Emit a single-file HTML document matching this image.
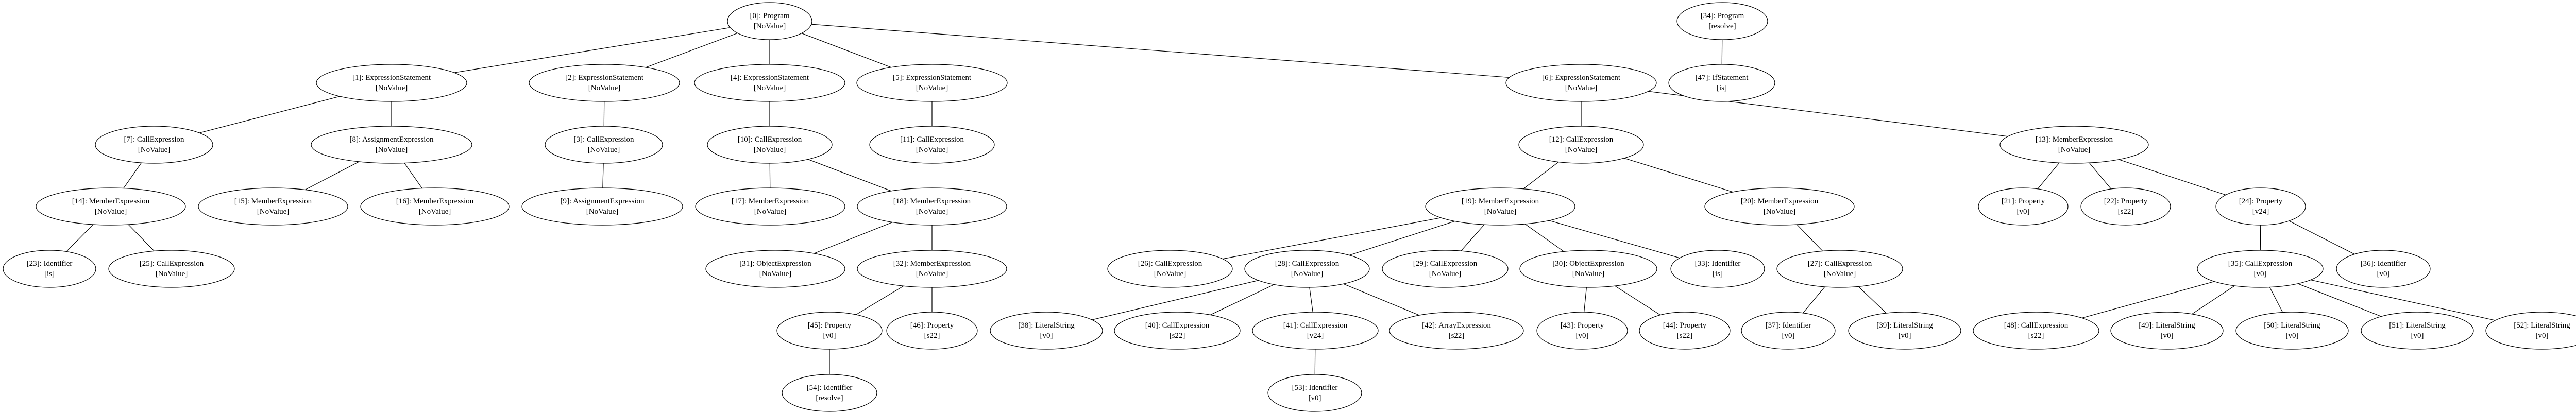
<!DOCTYPE html>
<html><head><meta charset="utf-8"><style>
html,body{margin:0;padding:0;background:#fff;}
svg{display:block;}
text{font-family:"Liberation Serif",serif;font-size:15px;fill:#000;text-anchor:middle;dominant-baseline:central;}
ellipse{fill:#fff;stroke:#000;stroke-width:1.2;}
line{stroke:#000;stroke-width:1.2;}
</style></head><body>
<svg width="5050" height="800" viewBox="0 0 5050 800" xmlns="http://www.w3.org/2000/svg">
<g>
<line x1="1494" y1="41" x2="760" y2="161"/>
<line x1="1494" y1="41" x2="1173" y2="161"/>
<line x1="1494" y1="41" x2="1494" y2="161"/>
<line x1="1494" y1="41" x2="1809" y2="161"/>
<line x1="1494" y1="41" x2="3069" y2="161"/>
<line x1="760" y1="161" x2="299" y2="281"/>
<line x1="760" y1="161" x2="760" y2="281"/>
<line x1="1173" y1="161" x2="1172" y2="281"/>
<line x1="1494" y1="161" x2="1494" y2="281"/>
<line x1="1809" y1="161" x2="1809" y2="281"/>
<line x1="3069" y1="161" x2="3069" y2="281"/>
<line x1="3069" y1="161" x2="4026" y2="281"/>
<line x1="299" y1="281" x2="215" y2="401"/>
<line x1="760" y1="281" x2="530" y2="401"/>
<line x1="760" y1="281" x2="844" y2="401"/>
<line x1="1172" y1="281" x2="1169" y2="401"/>
<line x1="1494" y1="281" x2="1495" y2="401"/>
<line x1="1494" y1="281" x2="1809" y2="401"/>
<line x1="3069" y1="281" x2="2912" y2="401"/>
<line x1="3069" y1="281" x2="3454" y2="401"/>
<line x1="4026" y1="281" x2="3927" y2="401"/>
<line x1="4026" y1="281" x2="4126" y2="401"/>
<line x1="4026" y1="281" x2="4388" y2="401"/>
<line x1="215" y1="401" x2="96" y2="522"/>
<line x1="215" y1="401" x2="333" y2="522"/>
<line x1="1809" y1="401" x2="1505" y2="522"/>
<line x1="1809" y1="401" x2="1809" y2="522"/>
<line x1="2912" y1="401" x2="2271" y2="522"/>
<line x1="2912" y1="401" x2="2537" y2="522"/>
<line x1="2912" y1="401" x2="2805" y2="522"/>
<line x1="2912" y1="401" x2="3083" y2="522"/>
<line x1="2912" y1="401" x2="3334" y2="522"/>
<line x1="3454" y1="401" x2="3571" y2="522"/>
<line x1="4388" y1="401" x2="4387" y2="522"/>
<line x1="4388" y1="401" x2="4626" y2="522"/>
<line x1="1809" y1="522" x2="1610" y2="642"/>
<line x1="1809" y1="522" x2="1809" y2="642"/>
<line x1="2537" y1="522" x2="2031" y2="642"/>
<line x1="2537" y1="522" x2="2285" y2="642"/>
<line x1="2537" y1="522" x2="2553" y2="642"/>
<line x1="2537" y1="522" x2="2827" y2="642"/>
<line x1="3083" y1="522" x2="3071" y2="642"/>
<line x1="3083" y1="522" x2="3270" y2="642"/>
<line x1="3571" y1="522" x2="3471" y2="642"/>
<line x1="3571" y1="522" x2="3697" y2="642"/>
<line x1="4387" y1="522" x2="3952" y2="642"/>
<line x1="4387" y1="522" x2="4206" y2="642"/>
<line x1="4387" y1="522" x2="4449" y2="642"/>
<line x1="4387" y1="522" x2="4692" y2="642"/>
<line x1="4387" y1="522" x2="4934" y2="642"/>
<line x1="1610" y1="642" x2="1610" y2="763"/>
<line x1="2553" y1="642" x2="2552" y2="763"/>
<line x1="3343" y1="41" x2="3342" y2="161"/>
</g>
<g>
<ellipse cx="1494" cy="41" rx="82" ry="36"/><text x="1494" y="31">[0]: Program</text><text x="1494" y="51">[NoValue]</text>
<ellipse cx="3343" cy="41" rx="88" ry="36"/><text x="3343" y="31">[34]: Program</text><text x="3343" y="51">[resolve]</text>

<ellipse cx="760" cy="161" rx="146" ry="36"/><text x="760" y="151">[1]: ExpressionStatement</text><text x="760" y="171">[NoValue]</text>
<ellipse cx="1173" cy="161" rx="146" ry="36"/><text x="1173" y="151">[2]: ExpressionStatement</text><text x="1173" y="171">[NoValue]</text>
<ellipse cx="1494" cy="161" rx="146" ry="36"/><text x="1494" y="151">[4]: ExpressionStatement</text><text x="1494" y="171">[NoValue]</text>
<ellipse cx="1809" cy="161" rx="146" ry="36"/><text x="1809" y="151">[5]: ExpressionStatement</text><text x="1809" y="171">[NoValue]</text>
<ellipse cx="3069" cy="161" rx="146" ry="36"/><text x="3069" y="151">[6]: ExpressionStatement</text><text x="3069" y="171">[NoValue]</text>
<ellipse cx="3342" cy="161" rx="103" ry="36"/><text x="3342" y="151">[47]: IfStatement</text><text x="3342" y="171">[is]</text>

<ellipse cx="299" cy="281" rx="114" ry="36"/><text x="299" y="271">[7]: CallExpression</text><text x="299" y="291">[NoValue]</text>
<ellipse cx="760" cy="281" rx="156" ry="36"/><text x="760" y="271">[8]: AssignmentExpression</text><text x="760" y="291">[NoValue]</text>
<ellipse cx="1172" cy="281" rx="114" ry="36"/><text x="1172" y="271">[3]: CallExpression</text><text x="1172" y="291">[NoValue]</text>
<ellipse cx="1494" cy="281" rx="121" ry="36"/><text x="1494" y="271">[10]: CallExpression</text><text x="1494" y="291">[NoValue]</text>
<ellipse cx="1809" cy="281" rx="121" ry="36"/><text x="1809" y="271">[11]: CallExpression</text><text x="1809" y="291">[NoValue]</text>
<ellipse cx="3069" cy="281" rx="121" ry="36"/><text x="3069" y="271">[12]: CallExpression</text><text x="3069" y="291">[NoValue]</text>
<ellipse cx="4026" cy="281" rx="144" ry="36"/><text x="4026" y="271">[13]: MemberExpression</text><text x="4026" y="291">[NoValue]</text>

<ellipse cx="215" cy="401" rx="145" ry="36"/><text x="215" y="391">[14]: MemberExpression</text><text x="215" y="411">[NoValue]</text>
<ellipse cx="530" cy="401" rx="145" ry="36"/><text x="530" y="391">[15]: MemberExpression</text><text x="530" y="411">[NoValue]</text>
<ellipse cx="844" cy="401" rx="144" ry="36"/><text x="844" y="391">[16]: MemberExpression</text><text x="844" y="411">[NoValue]</text>
<ellipse cx="1169" cy="401" rx="156" ry="36"/><text x="1169" y="391">[9]: AssignmentExpression</text><text x="1169" y="411">[NoValue]</text>
<ellipse cx="1495" cy="401" rx="145" ry="36"/><text x="1495" y="391">[17]: MemberExpression</text><text x="1495" y="411">[NoValue]</text>
<ellipse cx="1809" cy="401" rx="145" ry="36"/><text x="1809" y="391">[18]: MemberExpression</text><text x="1809" y="411">[NoValue]</text>
<ellipse cx="2912" cy="401" rx="145" ry="36"/><text x="2912" y="391">[19]: MemberExpression</text><text x="2912" y="411">[NoValue]</text>
<ellipse cx="3454" cy="401" rx="145" ry="36"/><text x="3454" y="391">[20]: MemberExpression</text><text x="3454" y="411">[NoValue]</text>
<ellipse cx="3927" cy="401" rx="87" ry="36"/><text x="3927" y="391">[21]: Property</text><text x="3927" y="411">[v0]</text>
<ellipse cx="4126" cy="401" rx="87" ry="36"/><text x="4126" y="391">[22]: Property</text><text x="4126" y="411">[s22]</text>
<ellipse cx="4388" cy="401" rx="87" ry="36"/><text x="4388" y="391">[24]: Property</text><text x="4388" y="411">[v24]</text>

<ellipse cx="96" cy="522" rx="90" ry="36"/><text x="96" y="512">[23]: Identifier</text><text x="96" y="532">[is]</text>
<ellipse cx="333" cy="522" rx="122" ry="36"/><text x="333" y="512">[25]: CallExpression</text><text x="333" y="532">[NoValue]</text>
<ellipse cx="1505" cy="522" rx="135" ry="36"/><text x="1505" y="512">[31]: ObjectExpression</text><text x="1505" y="532">[NoValue]</text>
<ellipse cx="1809" cy="522" rx="145" ry="36"/><text x="1809" y="512">[32]: MemberExpression</text><text x="1809" y="532">[NoValue]</text>
<ellipse cx="2271" cy="522" rx="121" ry="36"/><text x="2271" y="512">[26]: CallExpression</text><text x="2271" y="532">[NoValue]</text>
<ellipse cx="2537" cy="522" rx="121" ry="36"/><text x="2537" y="512">[28]: CallExpression</text><text x="2537" y="532">[NoValue]</text>
<ellipse cx="2805" cy="522" rx="122" ry="36"/><text x="2805" y="512">[29]: CallExpression</text><text x="2805" y="532">[NoValue]</text>
<ellipse cx="3083" cy="522" rx="133" ry="36"/><text x="3083" y="512">[30]: ObjectExpression</text><text x="3083" y="532">[NoValue]</text>
<ellipse cx="3334" cy="522" rx="91" ry="36"/><text x="3334" y="512">[33]: Identifier</text><text x="3334" y="532">[is]</text>
<ellipse cx="3571" cy="522" rx="122" ry="36"/><text x="3571" y="512">[27]: CallExpression</text><text x="3571" y="532">[NoValue]</text>
<ellipse cx="4387" cy="522" rx="122" ry="36"/><text x="4387" y="512">[35]: CallExpression</text><text x="4387" y="532">[v0]</text>
<ellipse cx="4626" cy="522" rx="91" ry="36"/><text x="4626" y="512">[36]: Identifier</text><text x="4626" y="532">[v0]</text>

<ellipse cx="1610" cy="642" rx="102" ry="36"/><text x="1610" y="632">[45]: Property</text><text x="1610" y="652">[v0]</text>
<ellipse cx="1809" cy="642" rx="88" ry="36"/><text x="1809" y="632">[46]: Property</text><text x="1809" y="652">[s22]</text>
<ellipse cx="2031" cy="642" rx="109" ry="36"/><text x="2031" y="632">[38]: LiteralString</text><text x="2031" y="652">[v0]</text>
<ellipse cx="2285" cy="642" rx="122" ry="36"/><text x="2285" y="632">[40]: CallExpression</text><text x="2285" y="652">[s22]</text>
<ellipse cx="2553" cy="642" rx="122" ry="36"/><text x="2553" y="632">[41]: CallExpression</text><text x="2553" y="652">[v24]</text>
<ellipse cx="2827" cy="642" rx="130" ry="36"/><text x="2827" y="632">[42]: ArrayExpression</text><text x="2827" y="652">[s22]</text>
<ellipse cx="3071" cy="642" rx="88" ry="36"/><text x="3071" y="632">[43]: Property</text><text x="3071" y="652">[v0]</text>
<ellipse cx="3270" cy="642" rx="88" ry="36"/><text x="3270" y="632">[44]: Property</text><text x="3270" y="652">[s22]</text>
<ellipse cx="3471" cy="642" rx="91" ry="36"/><text x="3471" y="632">[37]: Identifier</text><text x="3471" y="652">[v0]</text>
<ellipse cx="3697" cy="642" rx="109" ry="36"/><text x="3697" y="632">[39]: LiteralString</text><text x="3697" y="652">[v0]</text>
<ellipse cx="3952" cy="642" rx="122" ry="36"/><text x="3952" y="632">[48]: CallExpression</text><text x="3952" y="652">[s22]</text>
<ellipse cx="4206" cy="642" rx="109" ry="36"/><text x="4206" y="632">[49]: LiteralString</text><text x="4206" y="652">[v0]</text>
<ellipse cx="4449" cy="642" rx="109" ry="36"/><text x="4449" y="632">[50]: LiteralString</text><text x="4449" y="652">[v0]</text>
<ellipse cx="4692" cy="642" rx="109" ry="36"/><text x="4692" y="632">[51]: LiteralString</text><text x="4692" y="652">[v0]</text>
<ellipse cx="4934" cy="642" rx="109" ry="36"/><text x="4934" y="632">[52]: LiteralString</text><text x="4934" y="652">[v0]</text>

<ellipse cx="1610" cy="763" rx="92" ry="36"/><text x="1610" y="753">[54]: Identifier</text><text x="1610" y="773">[resolve]</text>
<ellipse cx="2552" cy="763" rx="91" ry="36"/><text x="2552" y="753">[53]: Identifier</text><text x="2552" y="773">[v0]</text>
</g>
</svg>
</body></html>
